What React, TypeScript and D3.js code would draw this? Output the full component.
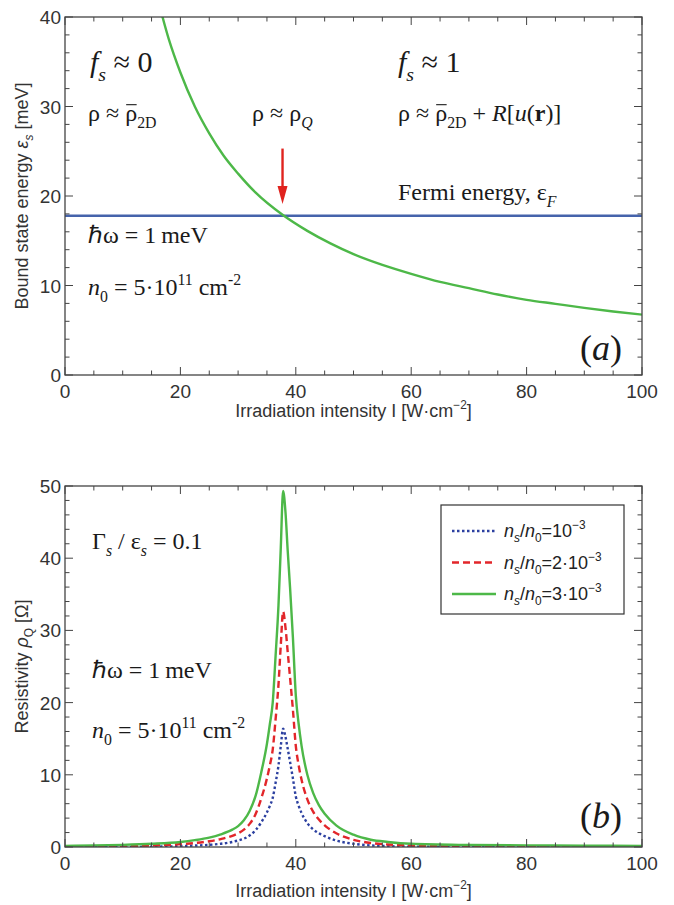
import React, { useEffect, useRef } from 'react';
import * as d3 from 'd3';

const W = 674;
const H = 905;

// panel (a): bound state energy vs irradiation intensity
const bsIntensity = [16, 18, 20, 22.5, 25, 27.5, 30, 33, 37.7, 42, 46, 50, 55, 60, 65, 70, 75, 80, 85, 90, 95, 100];
const bsEnergy = [42.2, 37.5, 33.8, 30, 27, 24.5, 22.5, 20.4, 17.9, 16.1, 14.7, 13.5, 12.3, 11.3, 10.4, 9.7, 9.0, 8.4, 7.95, 7.5, 7.1, 6.75];
const fermiEnergy = 17.8;
const arrowAt = 37.7;
const arrowFrom = 25.3;
const arrowTo = 19.1;

// panel (b): resistivity vs irradiation intensity
const resIntensity = [0, 5, 10, 15, 20, 22.5, 25, 27, 29, 30, 31, 32, 33, 34, 35, 35.5, 36, 36.5, 37, 37.4, 37.8, 38.2, 38.6, 39, 39.5, 40, 40.5, 41, 42, 43, 44, 45, 47, 50, 53, 56, 60, 70, 80, 90, 100];
const resLow = [0, 0, 0.01, 0.04, 0.12, 0.2, 0.3, 0.45, 0.7, 0.9, 1.15, 1.6, 2.3, 3.4, 4.8, 5.7, 6.8, 8.9, 11.3, 14, 16.4, 15.3, 13.6, 11.8, 9.5, 7, 5.7, 4.7, 3.3, 2.45, 1.9, 1.5, 0.9, 0.45, 0.22, 0.12, 0.05, 0.01, 0, 0, 0];
const resMid = [0.02, 0.04, 0.08, 0.2, 0.4, 0.55, 0.8, 1.1, 1.55, 1.9, 2.4, 3.2, 4.5, 6.7, 9.5, 11.3, 13.5, 17.7, 22.5, 28, 32.6, 30.5, 27, 23.5, 19, 14, 11.3, 9.3, 6.6, 4.9, 3.8, 3.0, 1.9, 1.0, 0.55, 0.35, 0.2, 0.06, 0.02, 0.01, 0];
const resHigh = [0.15, 0.2, 0.3, 0.45, 0.7, 0.95, 1.3, 1.75, 2.4, 2.9, 3.7, 5, 7, 10.3, 14.3, 17, 20, 26.5, 33.5, 41.5, 49.3, 46.5, 41, 36, 29, 21, 17, 14, 10, 7.5, 5.8, 4.6, 3, 1.7, 1.0, 0.7, 0.45, 0.28, 0.22, 0.18, 0.15];

const xTicks = [0, 20, 40, 60, 80, 100];
const yTicksA = [0, 10, 20, 30, 40];
const yTicksB = [0, 10, 20, 30, 40, 50];

const SERIF = '"Liberation Serif", "Times New Roman", serif';
const SANS = '"Liberation Sans", Arial, sans-serif';
const GREEN = '#4db848';
const AXIS = '#444';

type Part = { t: string; i?: boolean; b?: boolean; sub?: boolean; sup?: boolean; bar?: boolean };

function rich(g: any, x: number, y: number, parts: Part[], size: number, family: string, fill = '#1a1a1a') {
  const text = g.append('text').attr('x', x).attr('y', y)
    .attr('font-size', size).attr('font-family', family).attr('fill', fill)
    .style('white-space', 'pre');
  let shift = 0;
  const bars: any[] = [];
  parts.forEach(p => {
    const target = p.sub ? size * 0.3 : p.sup ? -size * 0.42 : 0;
    const ts = text.append('tspan').attr('dy', target - shift).text(p.t);
    shift = target;
    if (p.sub || p.sup) ts.attr('font-size', size * 0.66);
    if (p.i) ts.attr('font-style', 'italic');
    if (p.b) ts.attr('font-weight', 'bold');
    if (p.bar) bars.push(ts);
  });
  // overbars (ρ̄) drawn as short lines above the glyph
  bars.forEach(ts => {
    const bb = (ts.node() as SVGGraphicsElement).getBBox();
    g.append('line').attr('x1', bb.x + 1).attr('x2', bb.x + bb.width - 0.5)
      .attr('y1', y - size * 0.68).attr('y2', y - size * 0.68)
      .attr('stroke', fill).attr('stroke-width', 1.1);
  });
  return text;
}

function frame(g: any, x: any, y: any, yMajor: number[], yStep: number, titleOffset: number) {
  const [x0, x1] = x.range();
  const [y0, y1] = y.range();
  const [ymin, ymax] = y.domain();
  g.append('rect').attr('x', x0).attr('y', y1).attr('width', x1 - x0).attr('height', y0 - y1)
    .attr('fill', 'none').attr('stroke', AXIS).attr('stroke-width', 1.3);
  const tk = g.append('g').attr('stroke', AXIS).attr('stroke-width', 1);
  d3.range(0, 100.01, 5).forEach(v => {
    const len = v % 20 === 0 ? 8 : 4.5;
    const px = x(v);
    tk.append('line').attr('x1', px).attr('x2', px).attr('y1', y0).attr('y2', y0 - len);
    tk.append('line').attr('x1', px).attr('x2', px).attr('y1', y1).attr('y2', y1 + len);
  });
  d3.range(ymin, ymax + 0.01, yStep).forEach(v => {
    const len = v % 10 === 0 ? 8 : 4.5;
    const py = y(v);
    tk.append('line').attr('y1', py).attr('y2', py).attr('x1', x0).attr('x2', x0 + len);
    tk.append('line').attr('y1', py).attr('y2', py).attr('x1', x1).attr('x2', x1 - len);
  });
  xTicks.forEach(v => {
    g.append('text').attr('x', x(v)).attr('y', y0 + 23).attr('text-anchor', 'middle')
      .attr('font-family', SANS).attr('font-size', 19).attr('fill', '#333').text(v);
  });
  yMajor.forEach(v => {
    g.append('text').attr('x', x0 - 4).attr('y', y(v) + 7).attr('text-anchor', 'end')
      .attr('font-family', SANS).attr('font-size', 19).attr('fill', '#333').text(v);
  });
  const xt = rich(g, (x0 + x1) / 2, y0 + titleOffset, [
    { t: 'Irradiation intensity I [W·cm' }, { t: '−2', sup: true }, { t: ']' },
  ], 18, SANS, '#333');
  xt.attr('text-anchor', 'middle');
}

const App: React.FC = () => {
  const ref = useRef<SVGSVGElement>(null);

  useEffect(() => {
    if (!ref.current) return;
    const svg = d3.select(ref.current);
    svg.selectAll('*').remove();

    const left = 65;
    const right = 642;

    // ---------- panel (a)
    const xa = d3.scaleLinear().domain([0, 100]).range([left, right]);
    const ya = d3.scaleLinear().domain([0, 40]).range([375, 17]);
    const ga = svg.append('g');
    ga.append('clipPath').attr('id', 'clipA').append('rect')
      .attr('x', left).attr('y', 17).attr('width', right - left).attr('height', 358);

    const eps = bsIntensity.map((v, i) => [v, bsEnergy[i]] as [number, number]);
    ga.append('line').attr('x1', xa(0)).attr('x2', xa(100)).attr('y1', ya(fermiEnergy)).attr('y2', ya(fermiEnergy))
      .attr('stroke', '#4563ab').attr('stroke-width', 2.6);
    ga.append('path').datum(eps).attr('clip-path', 'url(#clipA)')
      .attr('fill', 'none').attr('stroke', GREEN).attr('stroke-width', 2.4)
      .attr('d', d3.line<[number, number]>().x(d => xa(d[0])).y(d => ya(d[1])).curve(d3.curveMonotoneX));

    // red arrow
    ga.append('line').attr('x1', xa(arrowAt)).attr('x2', xa(arrowAt)).attr('y1', ya(arrowFrom)).attr('y2', ya(arrowTo) - 12)
      .attr('stroke', '#e0231e').attr('stroke-width', 2.4);
    ga.append('path').attr('fill', '#e0231e')
      .attr('d', `M${xa(arrowAt)},${ya(arrowTo)} L${xa(arrowAt) - 5},${ya(arrowTo) - 18} L${xa(arrowAt) + 5},${ya(arrowTo) - 18} Z`);

    frame(ga, xa, ya, yTicksA, 2, 42);

    const ytA = rich(ga, 0, 0, [
      { t: 'Bound state energy ' }, { t: 'ε', i: true }, { t: 's', i: true, sub: true }, { t: ' [meV]' },
    ], 18, SANS, '#333');
    ytA.attr('text-anchor', 'middle').attr('transform', `translate(28,${(17 + 375) / 2}) rotate(-90)`);

    rich(ga, 90, 72, [{ t: 'f', i: true }, { t: 's', i: true, sub: true }, { t: ' ≈ 0' }], 30, SERIF);
    rich(ga, 398, 72, [{ t: 'f', i: true }, { t: 's', i: true, sub: true }, { t: ' ≈ 1' }], 30, SERIF);
    rich(ga, 88, 121, [{ t: 'ρ ≈ ' }, { t: 'ρ', bar: true }, { t: '2D', sub: true }], 24, SERIF);
    rich(ga, 252, 121, [{ t: 'ρ ≈ ρ' }, { t: 'Q', i: true, sub: true }], 24, SERIF);
    rich(ga, 398, 121, [
      { t: 'ρ ≈ ' }, { t: 'ρ', bar: true }, { t: '2D', sub: true }, { t: ' + ' }, { t: 'R', i: true }, { t: '[' },
      { t: 'u', i: true }, { t: '(' }, { t: 'r', b: true }, { t: ')]' },
    ], 24, SERIF);
    rich(ga, 398, 200, [{ t: 'Fermi energy, ε' }, { t: 'F', i: true, sub: true }], 24, SERIF);
    rich(ga, 88, 243, [{ t: 'ℏω = 1\u2009meV' }], 24, SERIF);
    rich(ga, 88, 295, [
      { t: 'n', i: true }, { t: '0', sub: true }, { t: ' = 5·10' }, { t: '11', sup: true }, { t: ' cm' }, { t: '-2', sup: true },
    ], 24, SERIF);
    rich(ga, 580, 360, [{ t: '(' }, { t: 'a', i: true }, { t: ')' }], 36, SERIF);

    // ---------- panel (b)
    const xb = d3.scaleLinear().domain([0, 100]).range([left, right]);
    const yb = d3.scaleLinear().domain([0, 50]).range([847, 486]);
    const gb = svg.append('g');
    gb.append('clipPath').attr('id', 'clipB').append('rect')
      .attr('x', left).attr('y', 486).attr('width', right - left).attr('height', 361);

    const series = [
      { vals: resLow, color: '#2c40a0', dash: '2.5,2.5', label: '10' },
      { vals: resMid, color: '#e2262a', dash: '7,4', label: '2·10' },
      { vals: resHigh, color: GREEN, dash: null, label: '3·10' },
    ];
    const line = d3.line<[number, number]>().x(d => xb(d[0])).y(d => yb(d[1])).curve(d3.curveMonotoneX);
    series.forEach(s => {
      const p = gb.append('path').datum(resIntensity.map((v, i) => [v, s.vals[i]] as [number, number]))
        .attr('clip-path', 'url(#clipB)').attr('fill', 'none')
        .attr('stroke', s.color).attr('stroke-width', 2.4).attr('d', line);
      if (s.dash) p.attr('stroke-dasharray', s.dash);
    });

    frame(gb, xb, yb, yTicksB, 2, 50);

    const ytB = rich(gb, 0, 0, [
      { t: 'Resistivity ' }, { t: 'ρ', i: true }, { t: 'Q', sub: true }, { t: ' [Ω]' },
    ], 18, SANS, '#333');
    ytB.attr('text-anchor', 'middle').attr('transform', `translate(28,${(486 + 847) / 2}) rotate(-90)`);

    // legend
    const lg = gb.append('g');
    lg.append('rect').attr('x', 441).attr('y', 505).attr('width', 183).attr('height', 109)
      .attr('fill', 'white').attr('stroke', '#333').attr('stroke-width', 1.2);
    series.forEach((s, i) => {
      const ly = 531 + i * 31.5;
      const l = lg.append('line').attr('x1', 452).attr('x2', 496).attr('y1', ly).attr('y2', ly)
        .attr('stroke', s.color).attr('stroke-width', 2.4);
      if (s.dash) l.attr('stroke-dasharray', s.dash);
      rich(lg, 504, ly + 6, [
        { t: 'n', i: true }, { t: 's', i: true, sub: true }, { t: '/' }, { t: 'n', i: true }, { t: '0', sub: true },
        { t: '=' + s.label }, { t: '−3', sup: true },
      ], 18, SANS, '#222');
    });

    rich(gb, 92, 549, [
      { t: 'Γ' }, { t: 's', i: true, sub: true }, { t: ' / ε' }, { t: 's', i: true, sub: true }, { t: ' = 0.1' },
    ], 24, SERIF);
    rich(gb, 92, 678, [{ t: 'ℏω = 1\u2009meV' }], 24, SERIF);
    rich(gb, 92, 738, [
      { t: 'n', i: true }, { t: '0', sub: true }, { t: ' = 5·10' }, { t: '11', sup: true }, { t: ' cm' }, { t: '-2', sup: true },
    ], 24, SERIF);
    rich(gb, 580, 828, [{ t: '(' }, { t: 'b', i: true }, { t: ')' }], 36, SERIF);
  }, []);

  return (
    <svg ref={ref} width={W} height={H}
      style={{ position: 'absolute', left: 0, top: 0, background: 'white' }} />
  );
};

export default App;
